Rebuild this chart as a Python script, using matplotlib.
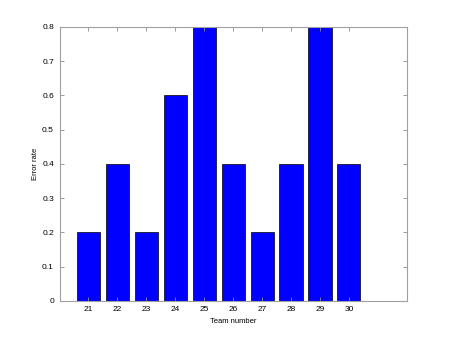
import matplotlib
matplotlib.use("Agg")
import matplotlib.pyplot as plt

teams = [21, 22, 23, 24, 25, 26, 27, 28, 29, 30]
error_rate = [0.2, 0.4, 0.2, 0.6, 0.8, 0.4, 0.2, 0.4, 0.8, 0.4]
y_ticks = [0, 0.1, 0.2, 0.3, 0.4, 0.5, 0.6, 0.7, 0.8]

plt.rcParams["font.family"] = ["Liberation Sans", "DejaVu Sans"]

fig = plt.figure(figsize=(4.51, 3.40), dpi=100)
ax = fig.add_axes([0.132, 0.115, 0.770, 0.806])
ax.bar(teams, error_rate, width=0.8, color="#0000ff", edgecolor="black", linewidth=0.5)

ax.set_xlim(20, 32)
ax.set_ylim(0, 0.8)
ax.set_xticks(teams)
ax.set_yticks(y_ticks)
ax.set_yticklabels([f"{v:g}" for v in y_ticks])
ax.tick_params(direction="in", length=3, width=0.6, color="#8c8c8c",
               labelsize=6, top=True, right=True, pad=4)
for spine in ax.spines.values():
    spine.set_color("#a0a0a0")
    spine.set_linewidth(0.8)

ax.set_xlabel("Team number", fontsize=5.5, labelpad=3)
ax.set_ylabel("Error rate", fontsize=5.5, labelpad=2)

fig.savefig("out.png", dpi=100)
